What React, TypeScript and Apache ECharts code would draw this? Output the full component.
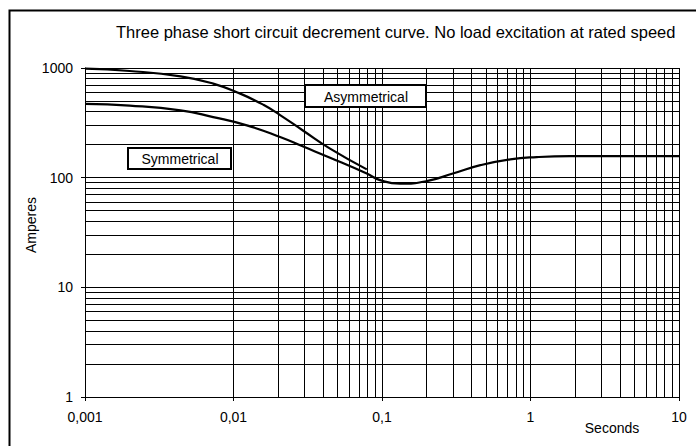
import React, { useEffect, useRef } from 'react';
import * as echarts from 'echarts';

const titleText = 'Three phase short circuit decrement curve. No load excitation at rated speed';
const xAxisName = 'Seconds';
const yAxisName = 'Amperes';

const xTicks = [0.001, 0.01, 0.1, 1, 10];
const xTickLabels = ['0,001', '0,01', '0,1', '1', '10'];
const yTicks = [1, 10, 100, 1000];
const yTickLabels = ['1', '10', '100', '1000'];

const symName = 'Symmetrical';
const symT = [0.001, 0.002, 0.0044, 0.0073, 0.0123, 0.0206, 0.0295, 0.0447, 0.079, 0.097, 0.132, 0.2, 0.3, 0.46, 0.73, 1.1, 1.85, 3.4, 10];
const symI = [471, 454, 411, 357, 300, 235, 192, 152, 109, 95, 88, 93, 109, 130, 147, 154, 157, 157, 157];

const asymName = 'Asymmetrical';
const asymT = [0.001, 0.002, 0.0044, 0.0073, 0.0111, 0.0159, 0.0206, 0.0295, 0.0447, 0.079];
const asymI = [985, 939, 840, 721, 584, 462, 372, 268, 184, 119];

const minorSteps = [1, 2, 3, 4, 5, 6, 7, 8, 9];

const FONT = '"Liberation Sans", Arial, sans-serif';

function gridValues(decades: number[]) {
  const out: number[] = [];
  for (let i = 0; i < decades.length - 1; i++) {
    for (const k of minorSteps) out.push(decades[i] * k);
  }
  out.push(decades[decades.length - 1]);
  return out;
}

function labelFor(ticks: number[], labels: string[]) {
  return (v: number) => {
    for (let i = 0; i < ticks.length; i++) {
      if (Math.abs(Math.log10(v) - Math.log10(ticks[i])) < 1e-6) return labels[i];
    }
    return '';
  };
}

export default function App() {
  const ref = useRef<HTMLDivElement>(null);
  useEffect(() => {
    if (!ref.current) return;
    const chart = echarts.init(ref.current, undefined, { renderer: 'svg' });
    const xGrid = gridValues(xTicks);
    const yGrid = gridValues(yTicks);
    const gridLineStyle = { color: '#000', width: 1, type: 'solid' as const };
    chart.setOption({
      animation: false,
      backgroundColor: '#fff',
      title: {
        text: titleText,
        left: 116,
        top: 23,
        padding: 0,
        textStyle: { fontFamily: FONT, fontSize: 16.5, fontWeight: 'normal', color: '#000' },
      },
      grid: { left: 85, top: 68, right: 17, bottom: 49 },
      xAxis: {
        type: 'log',
        logBase: 10,
        min: xTicks[0],
        max: xTicks[xTicks.length - 1],
        axisLine: { show: true, lineStyle: { color: '#000', width: 1 } },
        axisTick: { show: true, length: 4, lineStyle: { color: '#000' } },
        splitLine: { show: false },
        axisLabel: {
          formatter: labelFor(xTicks, xTickLabels),
          fontFamily: FONT,
          fontSize: 14,
          color: '#000',
          margin: 13,
        },
      },
      yAxis: {
        type: 'log',
        logBase: 10,
        min: yTicks[0],
        max: yTicks[yTicks.length - 1],
        axisLine: { show: true, lineStyle: { color: '#000', width: 1 } },
        axisTick: { show: true, length: 4, lineStyle: { color: '#000' } },
        splitLine: { show: false },
        axisLabel: {
          formatter: labelFor(yTicks, yTickLabels),
          fontFamily: FONT,
          fontSize: 14,
          color: '#000',
          margin: 12,
        },
      },
      series: [
        {
          name: 'grid',
          type: 'line',
          data: [],
          silent: true,
          z: 1,
          markLine: {
            silent: true,
            symbol: ['none', 'none'],
            label: { show: false },
            lineStyle: gridLineStyle,
            emphasis: { disabled: true },
            data: [
              ...xGrid.map((v) => ({ xAxis: v })),
              ...yGrid.map((v) => ({ yAxis: v })),
            ],
          },
        },
        {
          name: symName,
          type: 'line',
          smooth: 0.5,
          showSymbol: false,
          lineStyle: { color: '#000', width: 2.2 },
          data: symT.map((t, i) => [t, symI[i]]),
          z: 5,
        },
        {
          name: asymName,
          type: 'line',
          smooth: 0.5,
          showSymbol: false,
          lineStyle: { color: '#000', width: 2.2 },
          data: asymT.map((t, i) => [t, asymI[i]]),
          z: 5,
        },
      ],
      graphic: [
        {
          type: 'rect',
          left: 7,
          top: 8,
          shape: { width: 720, height: 460 },
          style: { fill: 'none', stroke: '#000', lineWidth: 2 },
          silent: true,
          z: 100,
        },
        {
          type: 'rect',
          x: 305,
          y: 85,
          z: 50,
          shape: { x: 0, y: 0, width: 121, height: 22 },
          style: { fill: '#fff', stroke: '#000', lineWidth: 2 },
        },
        {
          type: 'text',
          x: 366,
          y: 96.5,
          z: 51,
          style: { text: asymName, font: '14px ' + FONT, fill: '#000', align: 'center', verticalAlign: 'middle' },
        },
        {
          type: 'rect',
          x: 128,
          y: 148,
          z: 50,
          shape: { x: 0, y: 0, width: 103, height: 21 },
          style: { fill: '#fff', stroke: '#000', lineWidth: 2 },
        },
        {
          type: 'text',
          x: 180,
          y: 159,
          z: 51,
          style: { text: symName, font: '14px ' + FONT, fill: '#000', align: 'center', verticalAlign: 'middle' },
        },
        {
          type: 'text',
          x: 612,
          y: 428,
          style: { text: xAxisName, font: '14px ' + FONT, fill: '#000', align: 'center', verticalAlign: 'middle' },
        },
        {
          type: 'text',
          x: 31,
          y: 225,
          rotation: Math.PI / 2,
          style: { text: yAxisName, font: '14px ' + FONT, fill: '#000', align: 'center', verticalAlign: 'middle' },
        },
      ],
    });
    return () => chart.dispose();
  }, []);
  return (
    <div style={{ position: 'fixed', left: 0, top: 0, width: 696, height: 446, overflow: 'hidden' }}>
      <div ref={ref} style={{ width: 696, height: 446 }} />
    </div>
  );
}
